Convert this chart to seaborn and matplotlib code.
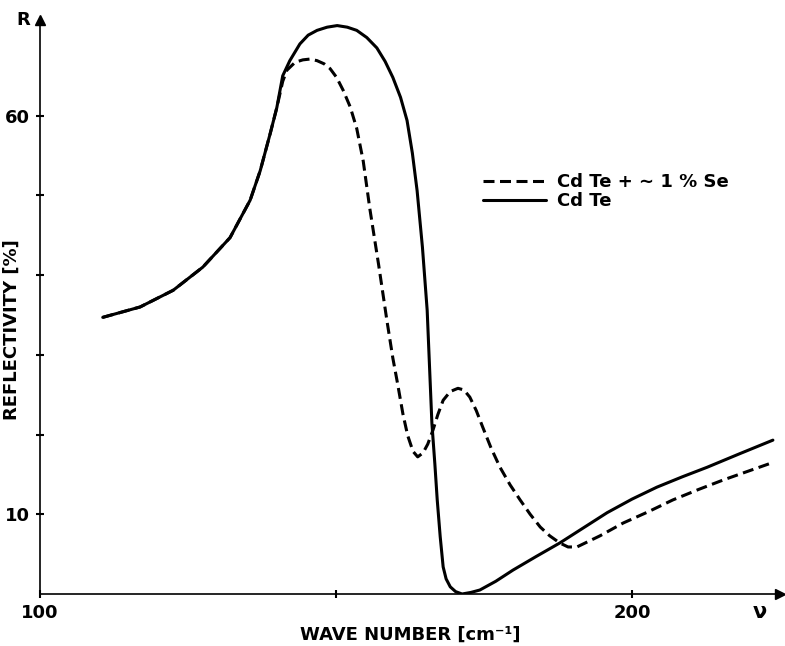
import numpy as np
import pandas as pd
import matplotlib
matplotlib.use("Agg")
import matplotlib.pyplot as plt
import seaborn as sns

# Reflectivity spectra: wave number [cm^-1] vs reflectivity [%]
cdte_wn = [110.6, 116.9, 122.5, 127.5, 132.1, 135.5, 137.2, 138.9, 140.0, 141.0,
           142.2, 143.9, 145.3, 146.8, 148.5, 150.2, 151.9, 153.5, 155.2, 156.9,
           158.3, 159.6, 160.9, 162.0, 162.9, 163.7, 164.6, 165.4, 165.8, 166.2,
           166.7, 167.1, 167.6, 168.1, 168.6, 169.3, 170.2, 171.3, 172.8, 174.3,
           177.0, 179.9, 183.8, 187.8, 191.8, 195.8, 200.0, 204.2, 208.5, 212.7,
           218.2, 223.8]
cdte_r = [34.7, 36.0, 38.1, 41.0, 44.7, 49.4, 53.1, 57.8, 61.0, 65.0,
          66.9, 69.0, 70.1, 70.7, 71.1, 71.3, 71.1, 70.7, 69.8, 68.5,
          66.8, 64.8, 62.3, 59.4, 55.3, 50.6, 43.5, 35.6, 28.5, 21.4,
          16.3, 11.8, 7.2, 3.4, 1.9, 0.9, 0.3, 0.0, 0.2, 0.5,
          1.6, 3.0, 4.7, 6.4, 8.3, 10.2, 11.9, 13.4, 14.7, 15.9,
          17.6, 19.3]

se_wn = [110.6, 116.9, 122.5, 127.5, 132.1, 135.5, 137.2, 138.9, 140.0, 141.0,
         141.7, 143.1, 144.4, 145.6, 146.8, 148.0, 149.0, 150.1, 151.2, 152.4,
         153.5, 154.6, 155.7, 157.2, 158.6, 159.6, 160.4, 161.3, 162.1, 163.0,
         163.8, 164.7, 165.5, 166.4, 167.2, 168.1, 169.3, 170.6, 171.6, 172.6,
         173.7, 174.8, 176.2, 177.7, 179.4, 181.1, 182.8, 184.5, 186.1, 187.8,
         189.2, 190.7, 194.6, 198.5, 202.7, 206.9, 211.2, 215.4, 219.6, 223.8]
se_r = [34.7, 36.0, 38.1, 41.0, 44.7, 49.4, 53.1, 57.8, 61.0, 64.3,
        65.7, 66.7, 67.0, 67.1, 66.9, 66.5, 65.9, 64.8, 63.2, 61.1,
        58.4, 54.3, 48.4, 41.3, 34.3, 29.6, 26.4, 22.6, 19.9, 17.9,
        17.2, 17.7, 18.8, 20.6, 22.5, 24.3, 25.4, 25.8, 25.6, 24.7,
        23.0, 20.9, 18.3, 15.9, 13.7, 11.8, 10.0, 8.4, 7.3, 6.4,
        5.9, 5.9, 7.3, 8.9, 10.3, 11.8, 13.1, 14.3, 15.4, 16.5]

label_se = "Cd Te + \u223c 1 % Se"
label_cdte = "Cd Te"

x_tick_values = [100, 150, 200]
x_tick_labels = ["100", "", "200"]
y_tick_values = [10, 20, 30, 40, 50, 60]
y_tick_labels = ["10", "", "", "", "", "60"]

df = pd.concat([
    pd.DataFrame({"wn": se_wn, "R": se_r, "sample": label_se}),
    pd.DataFrame({"wn": cdte_wn, "R": cdte_r, "sample": label_cdte}),
], ignore_index=True)

sns.set_theme(style="white")
plt.rcParams["font.family"] = ["DejaVu Sans"]
plt.rcParams["font.weight"] = "bold"
plt.rcParams["text.color"] = "black"
plt.rcParams["axes.labelcolor"] = "black"
plt.rcParams["xtick.color"] = "black"
plt.rcParams["ytick.color"] = "black"

fig = plt.figure(figsize=(7.85, 6.46), dpi=100)
ax = fig.add_axes([40 / 785, 1 - 594 / 646, 740 / 785, 574 / 646])

sns.lineplot(data=df, x="wn", y="R", hue="sample", style="sample",
             hue_order=[label_se, label_cdte], style_order=[label_se, label_cdte],
             palette={label_se: "black", label_cdte: "black"},
             dashes={label_se: (3.6, 1.8), label_cdte: ""},
             sort=False, estimator=None, linewidth=2.2, ax=ax)

ax.set_xlim(100, 225)
ax.set_ylim(0, 72)

for side in ("top", "right"):
    ax.spines[side].set_visible(False)
for side in ("left", "bottom"):
    ax.spines[side].set_color("black")
    ax.spines[side].set_linewidth(1.2)

# arrow heads at the ends of the axes
ax.plot(1, 0, ">", color="black", markersize=7, transform=ax.transAxes, clip_on=False)
ax.plot(0, 1, "^", color="black", markersize=7, transform=ax.transAxes, clip_on=False)

ax.set_xticks(x_tick_values)
ax.set_xticklabels(x_tick_labels)
ax.set_yticks(y_tick_values)
ax.set_yticklabels(y_tick_labels)
ax.tick_params(axis="both", direction="inout", length=6, width=1.5, colors="black",
               labelsize=13, pad=4, bottom=True, left=True)
for lab in ax.get_xticklabels() + ax.get_yticklabels():
    lab.set_fontweight("bold")
    lab.set_color("black")

ax.set_xlabel("WAVE NUMBER [cm\u207b\u00b9]", fontsize=13, fontweight="bold",
              labelpad=3, color="black")
ax.set_ylabel("REFLECTIVITY [%]", fontsize=13, fontweight="bold", color="black")
ax.yaxis.set_label_coords(-0.026, 0.46)

ax.text(-0.023, 1.0, "R", transform=ax.transAxes, ha="center", va="center",
        fontsize=13, fontweight="bold", color="black")
ax.text(0.973, -0.031, "\u03bd", transform=ax.transAxes, ha="center", va="center",
        fontsize=15, fontweight="bold", color="black")

leg = ax.legend(loc="upper left", bbox_to_anchor=(474 / 785, 1 - 164 / 646),
                bbox_transform=fig.transFigure, frameon=False, fontsize=13,
                handlelength=3.5, handletextpad=0.6, labelspacing=0.05,
                borderpad=0, title=None)
for t in leg.get_texts():
    t.set_fontweight("bold")
    t.set_color("black")

fig.savefig("out.png", dpi=100, facecolor="white")
